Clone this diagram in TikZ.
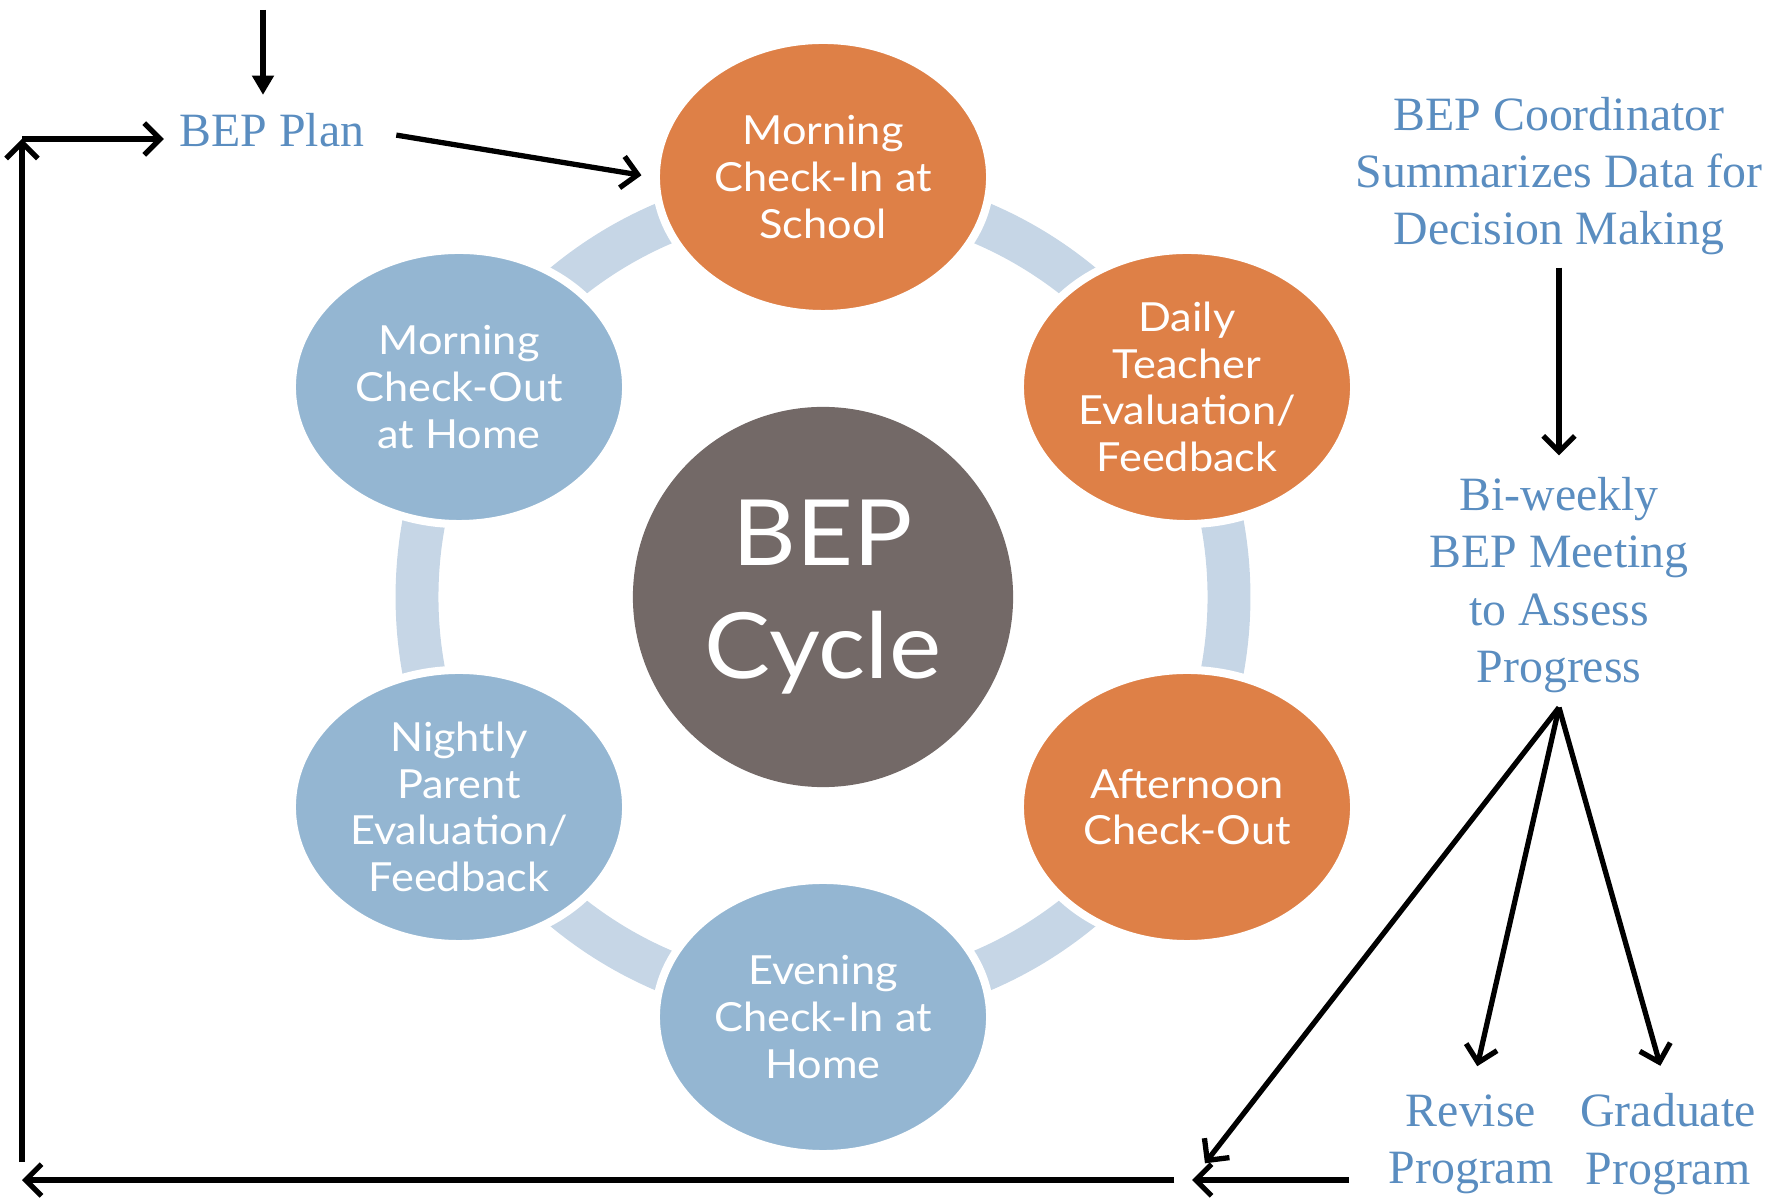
\documentclass[tikz,border=0pt]{standalone}
\usepackage{fontspec}
\setmainfont{Liberation Serif}
\newfontfamily\cyclefont[FakeStretch=1.08]{Lato}
\usetikzlibrary{shapes.geometric,arrows.meta}
\definecolor{cycorange}{HTML}{DE8047}
\definecolor{cycblue}{HTML}{94B6D2}
\definecolor{cycgray}{HTML}{736967}
\definecolor{cycring}{HTML}{C6D6E6}
\definecolor{sideblue}{HTML}{5A8DC0}

\begin{document}
\begin{tikzpicture}[x=0.01cm, y=0.01cm,
   stage/.style={ellipse, draw=white, line width=2.3pt, minimum width=3.34cm,
      minimum height=2.74cm, inner sep=0pt, text=white, align=center,
      font=\cyclefont\fontsize{11.4}{13.3}\selectfont},
   sidetext/.style={text=sideblue, align=center, inner sep=0pt,
      font=\fontsize{13.6}{16.3}\selectfont},
   arr/.style={line width=1.5pt, -{Straight Barb[length=4.5pt,width=9pt]}}]
   \useasboundingbox (0,0) rectangle (1767,1197);

   % ring behind the stages
   \draw [cycring, line width=12.2pt] (823,600) circle [radius=406];

   \node [stage, fill=cycorange] (morning) at (823,1020) {Morning\\Check-In at\\School};
   \node [stage, fill=cycorange] (teacher) at (1187,810) {Daily\\Teacher\\Evaluation/\\Feedback};
   \node [stage, fill=cycorange] (afternoon) at (1187,390) {Afternoon\\Check-Out};
   \node [stage, fill=cycblue] (evening) at (823,180) {Evening\\Check-In at\\Home};
   \node [stage, fill=cycblue] (parent) at (459,390) {Nightly\\Parent\\Evaluation/\\Feedback};
   \node [stage, fill=cycblue] (checkout) at (459,810) {Morning\\Check-Out\\at Home};
   \node [circle, fill=cycgray, minimum size=3.8cm, inner sep=0pt, text=white, align=center,
      font=\cyclefont\fontsize{26}{32}\selectfont] (cycle) at (823,600) {BEP\\Cycle};

   % side texts
   \node [sidetext] (plan) at (272,1067) {BEP Plan};
   \node [sidetext] (coord) at (1559,1021) {BEP Coordinator\\Summarizes Data for\\Decision Making};
   \node [sidetext] (meeting) at (1559,612) {Bi-weekly\\BEP Meeting\\to Assess\\Progress};
   \node [sidetext] (revise) at (1471,53) {Revise\\Program};
   \node [sidetext] (graduate) at (1668,53) {Graduate\\Program};

   \coordinate (plantop) at (263,1187);
   \coordinate (loopTL) at (22,1058);
   \coordinate (loopBL) at (22,35);
   \coordinate (apex) at ([yshift=-4pt]meeting.south);
   \coordinate (join) at (1192,17);
   \coordinate (progstart) at (1349,17);

   \draw [line width=1.5pt, -{Triangle[length=5.5pt,width=6pt]}, shorten >=5pt] (plantop) -- (plantop |- plan.north);
   \draw [arr] (loopBL) -- (loopTL);
   \draw [arr, shorten >=4.3pt] (loopTL) -- (plan.west |- loopTL);
   \draw [arr, shorten <=9pt, shorten >=3pt] (plan.east) -- (morning.west);

   \draw [arr, shorten <=3.4pt, shorten >=6pt] (coord.south) -- (meeting.north);
   \draw [arr, shorten >=6pt] (apex) -- (join);
   \draw [arr, shorten >=8pt] (apex) -- (revise.north);
   \draw [arr, shorten >=8pt] (apex) -- (graduate.north);
   \draw [arr] (progstart) -- (join);
   \draw [arr, shorten <=5pt] (join) -- (join -| loopBL);
\end{tikzpicture}
\end{document}
